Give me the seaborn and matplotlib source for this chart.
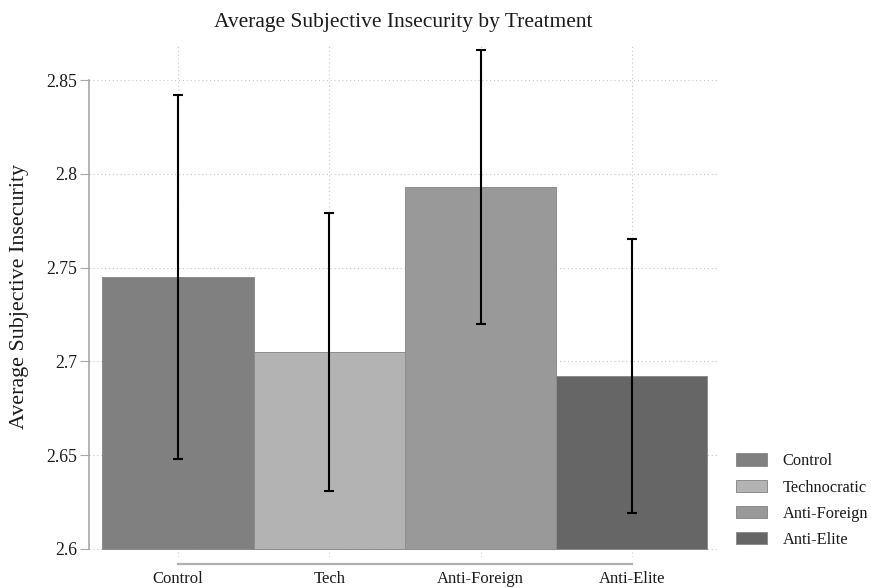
import matplotlib
matplotlib.use("Agg")
import matplotlib.pyplot as plt
import seaborn as sns
import pandas as pd

# ---- data ----
tick_labels = ["Control", "Tech", "Anti-Foreign", "Anti-Elite"]
legend_labels = ["Control", "Technocratic", "Anti-Foreign", "Anti-Elite"]
means = [2.745, 2.705, 2.793, 2.692]
ci_low = [2.648, 2.631, 2.720, 2.619]
ci_high = [2.842, 2.779, 2.866, 2.765]
bar_colors = ["#808080", "#b3b3b3", "#999999", "#666666"]
y_ticks = [2.6, 2.65, 2.7, 2.75, 2.8, 2.85]
y_tick_labels = ["2.6", "2.65", "2.7", "2.75", "2.8", "2.85"]
base = 2.6

df = pd.DataFrame({"cond": tick_labels, "group": legend_labels, "mean": means,
                   "lo": ci_low, "hi": ci_high})

sns.set_theme(style="white")
plt.rcParams["font.family"] = ["Liberation Serif", "DejaVu Serif"]

fig = plt.figure(figsize=(8.71, 5.88), dpi=100)
ax = fig.add_axes([89 / 871, 31 / 588, (717 - 89) / 871, (557 - 45) / 588])

sns.barplot(data=df, x="cond", y="mean", hue="group", palette=bar_colors,
            hue_order=legend_labels, order=tick_labels, dodge=False, width=1.0,
            edgecolor="#8c8c8c", linewidth=0.7, errorbar=None, ax=ax, zorder=2,
            legend=True)

# bars start at the axis base (2.6), as in the original
for p in ax.patches:
    if p.get_height() > base:
        top = p.get_y() + p.get_height()
        p.set_y(base)
        p.set_height(top - base)

pos = list(range(len(tick_labels)))
yerr = [[m - l for m, l in zip(df["mean"], df["lo"])],
        [h - m for m, h in zip(df["mean"], df["hi"])]]
ax.errorbar(pos, df["mean"], yerr=yerr, fmt="none", ecolor="black",
            elinewidth=1.5, capsize=3.6, capthick=1.5, zorder=4)

ax.set_ylim(2.5957, 2.8687)
ax.set_xlim(-0.589, 3.563)
ax.set_yticks(y_ticks)
ax.set_yticklabels(y_tick_labels)

# grid
ax.grid(True, axis="both", color="#c8c8c8", linestyle=(0, (1, 2.5)), linewidth=0.8)
ax.set_axisbelow(True)

for s in ["top", "right"]:
    ax.spines[s].set_visible(False)
ax.spines["left"].set_bounds(2.6, 2.85)
ax.spines["left"].set_color("#a8a8a8")
ax.spines["left"].set_linewidth(1.2)
ax.spines["bottom"].set_bounds(0, 3)
ax.spines["bottom"].set_position(("outward", 5))
ax.spines["bottom"].set_color("#b0b0b0")
ax.spines["bottom"].set_linewidth(1.6)

ax.tick_params(axis="y", which="major", left=True, length=6.5, width=0.8,
               color="#a8a8a8", pad=2, labelsize=12.7, labelcolor="#1a1a1a")
ax.tick_params(axis="x", which="major", bottom=True, length=0, pad=5,
               labelsize=12, labelcolor="#1a1a1a")

ax.set_xlabel("")
ax.set_ylabel("Average Subjective Insecurity", fontsize=15.8, color="#1a1a1a")
ax.yaxis.set_label_coords(-0.096, 0.508)
ax.set_title("Average Subjective Insecurity by Treatment", fontsize=15.5,
             pad=13, color="#1a1a1a")

handles, labels = ax.get_legend_handles_labels()
leg = ax.legend(handles, labels, loc="lower left", bbox_to_anchor=(1.02, 0.005),
                frameon=False, fontsize=11.8, handlelength=1.9, handleheight=0.8,
                labelspacing=0.62, handletextpad=0.95, borderaxespad=0)
for t in leg.get_texts():
    t.set_color("#1a1a1a")

fig.savefig("out.png", dpi=100)
